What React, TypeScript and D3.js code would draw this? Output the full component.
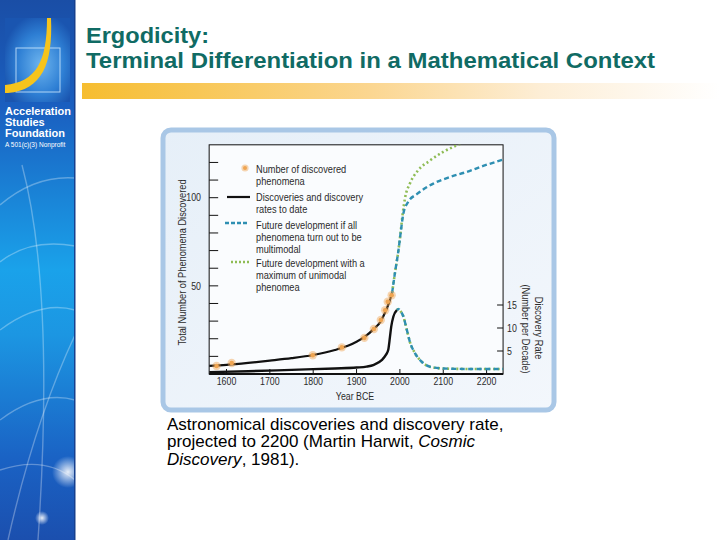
import React from 'react';
import * as d3 from 'd3';

// ---------- data ----------
const xTickYears = [1600, 1700, 1800, 1900, 2000, 2100, 2200];
const leftTickValues = [10, 20, 30, 40, 50, 60, 70, 80, 90, 100, 110, 120];
const leftTickLabels = [50, 100];
const rightTickValues = [5, 10, 15];

const pointYears = [1577, 1612, 1799, 1866, 1918, 1940, 1956, 1966, 1972, 1981];
const pointValues = [4.5, 6.2, 10.6, 15.1, 20.5, 25.5, 30.6, 36.2, 41, 44.7];

const blackCumYears = [1560, 1600, 1650, 1700, 1750, 1800, 1850, 1880, 1900, 1920, 1940, 1955, 1965, 1975, 1982];
const blackCumValues = [4.6, 5.2, 6.3, 7.6, 9.0, 10.8, 13.6, 16.0, 18.3, 21.3, 25.6, 29.6, 34.5, 40.5, 46];

const blueCumYears = [1982, 1989, 1996, 2002, 2008, 2019, 2039, 2077, 2115, 2154, 2192, 2238];
const blueCumValues = [46, 58, 69, 80.6, 91, 97.6, 102, 108, 111.7, 114.6, 118, 121.6];

const greenCumYears = [1982, 1989, 1996, 2002, 2006, 2012, 2023, 2042, 2069, 2100, 2131, 2160];
const greenCumValues = [46, 58, 69, 81, 90, 100, 108, 115.5, 121, 126, 129.7, 133];

const blackRateYears = [1560, 1650, 1750, 1850, 1900, 1923, 1940, 1958, 1968, 1973, 1977, 1980, 1985, 1993];
const blackRateValues = [0.4, 0.6, 0.9, 1.2, 1.4, 1.6, 2.0, 3.0, 4.2, 5.2, 8, 10.3, 12.5, 13.9];

const futureRateYears = [1993, 1997, 2002, 2008, 2016, 2023, 2035, 2050, 2069, 2100, 2150, 2238];
const futureRateValues = [13.9, 14.1, 13.6, 12.5, 9.6, 7.0, 4.5, 2.7, 1.6, 1.2, 1.1, 1.1];

const legendLabels = [
  ['Number of discovered', 'phenomena'],
  ['Discoveries and discovery', 'rates to date'],
  ['Future development if all', 'phenomena turn out to be', 'multimodal'],
  ['Future development with a', 'maximum of unimodal', 'phenomea'],
];

const titleLines = ['Ergodicity:', 'Terminal Differentiation in a Mathematical Context'];
const sidebarLines = ['Acceleration', 'Studies', 'Foundation'];

// ---------- styles ----------
const BLUE = '#2e8fb2';
const GREEN = '#8fbc55';
const ORANGE = '#efa552';
const INK = '#2b2b2b';
const COND = 0.84;

export default function App() {
  const x = d3.scaleLinear().domain([1600, 2200]).range([226.5, 486.6]);
  const yL = d3.scaleLinear().domain([0, 100]).range([374, 197.7]);
  const yR = d3.scaleLinear().domain([0, 15]).range([374, 305]);
  const px0 = x(1560), px1 = x(2238), py0 = yL(130), py1 = yL(0);

  const lineL = d3.line<[number, number]>().x(d => x(d[0])).y(d => yL(d[1])).curve(d3.curveMonotoneX);
  const lineR = d3.line<[number, number]>().x(d => x(d[0])).y(d => yR(d[1])).curve(d3.curveMonotoneX);

  const pairs = (a: number[], b: number[]) => d3.zip(a, b) as [number, number][];

  const blackCum = lineL(pairs(blackCumYears, blackCumValues)) || '';
  const blueCum = lineL(pairs(blueCumYears, blueCumValues)) || '';
  const greenCum = lineL(pairs(greenCumYears, greenCumValues)) || '';
  const blackRate = lineR(pairs(blackRateYears, blackRateValues)) || '';
  const futureRate = lineR(pairs(futureRateYears, futureRateValues)) || '';

  const legendSymbolY = [168, 197, 223, 262];
  const legendFirstBaseline = [173, 201, 229, 267];
  const lh = 12;

  const condText = (tx: number, ty: number, s: string, size: number, anchor: string = 'start', rot = 0, key?: any) => (
    <text key={key} transform={`translate(${tx},${ty}) rotate(${rot}) scale(${COND},1)`} fontSize={size}
      fontFamily="'Liberation Sans', Arial, sans-serif" fill={INK} textAnchor={anchor as any}>{s}</text>
  );

  return (
    <svg width={720} height={540} style={{ position: 'fixed', left: 0, top: 0 }} xmlns="http://www.w3.org/2000/svg">
      <defs>
        <linearGradient id="side" x1="0" y1="0" x2="0" y2="1">
          <stop offset="0" stopColor="#1a4ea6" />
          <stop offset="0.2" stopColor="#1a5fc0" />
          <stop offset="0.5" stopColor="#1aa2ea" />
          <stop offset="0.62" stopColor="#1c96e2" />
          <stop offset="0.85" stopColor="#1a62c4" />
          <stop offset="1" stopColor="#1b4fae" />
        </linearGradient>
        <radialGradient id="logoBg" cx="0.55" cy="0.55" r="0.6">
          <stop offset="0" stopColor="#6db4ee" />
          <stop offset="0.6" stopColor="#2e7fd4" />
          <stop offset="1" stopColor="#1a55b0" />
        </radialGradient>
        <radialGradient id="glow" cx="0.5" cy="0.5" r="0.5">
          <stop offset="0" stopColor="#ffffff" stopOpacity="0.9" />
          <stop offset="1" stopColor="#ffffff" stopOpacity="0" />
        </radialGradient>
        <linearGradient id="bar" x1="0" y1="0" x2="1" y2="0">
          <stop offset="0" stopColor="#f6bd30" />
          <stop offset="0.45" stopColor="#fbd690" />
          <stop offset="0.72" stopColor="#fdeed6" />
          <stop offset="1" stopColor="#ffffff" />
        </linearGradient>
        <linearGradient id="frameFill" x1="0" y1="0" x2="1" y2="1">
          <stop offset="0" stopColor="#e6eff8" />
          <stop offset="1" stopColor="#f3f7fc" />
        </linearGradient>
        <clipPath id="plotClip">
          <rect x={px0} y={py0} width={px1 - px0} height={py1 - py0} />
        </clipPath>
      </defs>

      <rect x={0} y={0} width={720} height={540} fill="#ffffff" />

      {/* sidebar */}
      <rect x={0} y={0} width={75} height={540} fill="url(#side)" />
      <g fill="none" stroke="rgba(255,255,255,0.3)" strokeWidth={1.4}>
        <path d="M0 205 Q 35 175 75 178" />
        <path d="M0 262 Q 30 238 75 246" />
        <path d="M8 540 Q 35 420 75 335" />
        <path d="M0 470 Q 45 455 75 480" />
        <path d="M22 165 Q 55 290 38 540" />
        <path d="M0 330 Q 40 300 75 310" />
        <path d="M0 420 Q 40 390 75 400" />
      </g>
      <circle cx={68} cy={472} r={16} fill="url(#glow)" />
      <circle cx={42} cy={518} r={7} fill="url(#glow)" />
      <rect x={74} y={0} width={1.5} height={540} fill="#17408e" />
      <rect x={5} y={18} width={65} height={84} fill="url(#logoBg)" />
      <rect x={16} y={48} width={44} height={44} fill="none" stroke="rgba(210,235,255,0.8)" strokeWidth={1} />
      <path d="M47 18 L51 18 C 53 64, 42 90, 8 93 L5 93 L5 85 C 36 82, 47 62, 47 18 Z" fill="#f6c41c" />
      {sidebarLines.map((s, i) => (
        <text key={s} x={5} y={115 + i * 11} fontSize={11} fontWeight="bold" fill="#ffffff"
          fontFamily="'Liberation Sans', Arial, sans-serif">{s}</text>
      ))}
      <text x={5} y={147} fontSize={6.5} fill="#ffffff" fontFamily="'Liberation Sans', Arial, sans-serif">A 501(c)(3) Nonprofit</text>

      {/* title */}
      {titleLines.map((s, i) => (
        <text key={s} x={86} y={43 + i * 25} fontSize={22} fontWeight="bold" fill="#106b64"
          textLength={i === 0 ? 123 : 569} lengthAdjust="spacingAndGlyphs"
          fontFamily="'Liberation Sans', Arial, sans-serif">{s}</text>
      ))}
      <rect x={82} y={83} width={638} height={16} fill="url(#bar)" />

      {/* chart frame */}
      <rect x={163} y={130} width={391} height={280} rx={8} fill="url(#frameFill)" stroke="#a9c7e6" strokeWidth={5} />
      <rect x={px0} y={py0} width={px1 - px0} height={py1 - py0} fill="#fafcfe" stroke="#111" strokeWidth={1} />

      {/* ticks */}
      <g stroke="#111" strokeWidth={1}>
        {leftTickValues.map(v => <line key={v} x1={px0} x2={px0 + 9} y1={yL(v)} y2={yL(v)} />)}
        {rightTickValues.map(v => <line key={v} x1={px1 - 6} x2={px1} y1={yR(v)} y2={yR(v)} />)}
        {xTickYears.map(t => <line key={t} x1={x(t)} x2={x(t)} y1={py1} y2={py1 - 5} />)}
      </g>
      <line x1={px0} x2={px1} y1={py1} y2={py1} stroke="#111" strokeWidth={2} />

      {/* tick labels */}
      {xTickYears.map(t => condText(x(t), 385, String(t), 10.5, 'middle', 0, 'xt' + t))}
      {leftTickLabels.map(v => condText(201, yL(v) + 3.7, String(v), 10.5, 'end', 0, 'yl' + v))}
      {rightTickValues.map(v => condText(507, yR(v) + 3.7, String(v), 10.5, 'start', 0, 'yr' + v))}

      {/* axis titles */}
      {condText(185.5, 262.5, 'Total Number of Phenomena Discovered', 11, 'middle', -90, 'lt')}
      {condText(535, 328, 'Discovery Rate', 11, 'middle', 90, 'rt1')}
      {condText(522, 329, '(Number per Decade)', 11, 'middle', 90, 'rt2')}
      {condText(355, 400, 'Year BCE', 10.5, 'middle', 0, 'xt')}

      {/* series */}
      <g clipPath="url(#plotClip)" fill="none">
        <path d={greenCum} stroke={GREEN} strokeWidth={2.6} strokeDasharray="2 2.6" />
        <path d={futureRate} stroke={GREEN} strokeWidth={2.6} strokeDasharray="2 2.6" />
        <path d={blueCum} stroke={BLUE} strokeWidth={2.4} strokeDasharray="5 3" />
        <path d={futureRate} stroke={BLUE} strokeWidth={2.4} strokeDasharray="5 3.5" strokeDashoffset={2} />
        <path d={blackRate} stroke="#111" strokeWidth={2.4} />
        <path d={blackCum} stroke="#111" strokeWidth={2.2} />
        {pointYears.map((yr, i) => (
          <g key={yr}>
            <circle cx={x(yr)} cy={yL(pointValues[i])} r={4.2} fill={ORANGE} fillOpacity={0.45} />
            <circle cx={x(yr)} cy={yL(pointValues[i])} r={2.3} fill={ORANGE} />
          </g>
        ))}
      </g>

      {/* legend */}
      <circle cx={245} cy={legendSymbolY[0]} r={3.6} fill={ORANGE} fillOpacity={0.45} />
      <circle cx={245} cy={legendSymbolY[0]} r={2} fill={ORANGE} />
      <line x1={227} x2={250} y1={legendSymbolY[1]} y2={legendSymbolY[1]} stroke="#111" strokeWidth={2.2} />
      <line x1={225} x2={249} y1={legendSymbolY[2]} y2={legendSymbolY[2]} stroke={BLUE} strokeWidth={2.4} strokeDasharray="4 2" />
      <line x1={231} x2={251} y1={legendSymbolY[3]} y2={legendSymbolY[3]} stroke={GREEN} strokeWidth={2.4} strokeDasharray="2 2" />
      {legendLabels.map((lines, i) => lines.map((s, j) =>
        condText(256, legendFirstBaseline[i] + j * lh, s, 11, 'start', 0, `lg${i}-${j}`)))}

      {/* caption */}
      <g fontFamily="'Liberation Sans', Arial, sans-serif" fontSize={17} fill="#000">
        <text x={167} y={429.5}>Astronomical discoveries and discovery rate,</text>
        <text x={167} y={447}>projected to 2200 (Martin Harwit, <tspan fontStyle="italic">Cosmic</tspan></text>
        <text x={167} y={464.5}><tspan fontStyle="italic">Discovery</tspan>, 1981).</text>
      </g>
    </svg>
  );
}
